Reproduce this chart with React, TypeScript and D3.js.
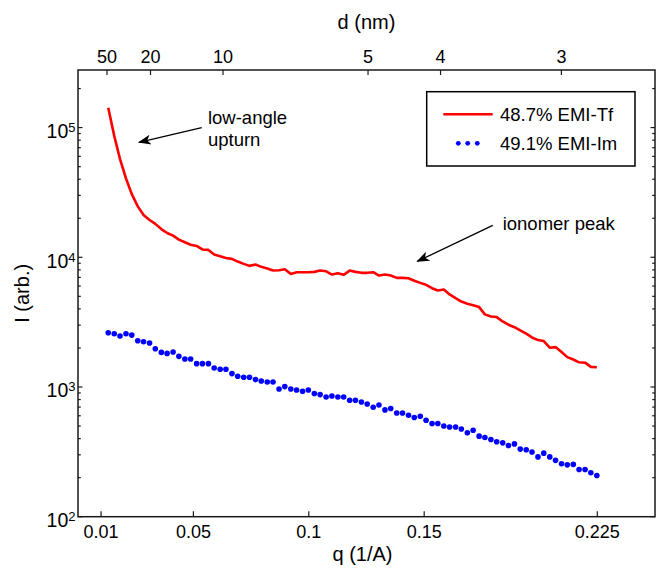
import React from "react";
import * as d3 from "d3";

// q grid (1/A), shared by both series
const qValues = [
  0.0131, 0.0157, 0.0182, 0.0208, 0.0233, 0.0259, 0.0284, 0.031, 0.0335, 0.0361,
  0.0386, 0.0412, 0.0437, 0.0463, 0.0488, 0.0514, 0.0539, 0.0565, 0.059, 0.0616,
  0.0641, 0.0667, 0.0692, 0.0718, 0.0743, 0.0769, 0.0794, 0.082, 0.0845, 0.0871,
  0.0896, 0.0922, 0.0947, 0.0973, 0.0998, 0.1024, 0.1049, 0.1075, 0.11, 0.1126,
  0.1151, 0.1177, 0.1202, 0.1228, 0.1253, 0.1279, 0.1304, 0.133, 0.1355, 0.1381,
  0.1406, 0.1432, 0.1457, 0.1483, 0.1508, 0.1534, 0.1559, 0.1585, 0.161, 0.1636,
  0.1661, 0.1687, 0.1712, 0.1738, 0.1763, 0.1789, 0.1814, 0.184, 0.1865, 0.1891,
  0.1916, 0.1942, 0.1967, 0.1993, 0.2018, 0.2044, 0.2069, 0.2095, 0.212, 0.2146,
  0.2171, 0.2197, 0.2222, 0.2248,
];

// 48.7% EMI-Tf (red line)
const tfValues = [
  142000, 86300, 57100, 40500, 30700, 24700, 21200, 19400, 18100, 16500,
  15400, 14700, 13700, 13050, 12500, 12240, 11500, 11400, 10500, 10200,
  9890, 9720, 9270, 8900, 8590, 8790, 8440, 8190, 7900, 7940,
  8090, 7450, 7670, 7670, 7670, 7720, 7900, 7800, 7360, 7530,
  7320, 7900, 7720, 7590, 7590, 7670, 7230, 7360, 7230, 6940,
  6940, 6900, 6590, 6350, 6140, 5780, 5540, 5640, 5170, 4840,
  4560, 4380, 4270, 4130, 3630, 3500, 3460, 3200, 3020, 2890,
  2730, 2580, 2410, 2300, 2260, 2010, 2030, 1860, 1700, 1630,
  1550, 1540, 1430, 1420,
];

// 49.1% EMI-Im (blue dots)
const imValues = [
  2620, 2575, 2468, 2575, 2512, 2275, 2235, 2181, 1974, 1849,
  1816, 1859, 1723, 1642, 1642, 1514, 1514, 1514, 1401, 1369,
  1369, 1268, 1209, 1188, 1188, 1140, 1112, 1093, 1093, 965,
  1007, 965, 948, 927, 948, 890, 874, 838, 853, 838,
  838, 790, 790, 767, 740, 698, 727, 666, 682, 631,
  631, 606, 582, 595, 554, 523, 523, 501, 492, 492,
  475, 443, 464, 418, 408, 394, 378, 371, 354, 364,
  332, 328, 315, 289, 309, 289, 272, 256, 251, 253,
  231, 231, 218, 208,
];

const bottomTicks = [0.01, 0.05, 0.1, 0.15, 0.225];
const bottomTickLabels = ["0.01", "0.05", "0.1", "0.15", "0.225"];
const topTicksNm = [50, 20, 10, 5, 4, 3];
const seriesNames = ["48.7% EMI-Tf", "49.1% EMI-Im"];

const W = 657;
const H = 573;
const FONT = "'Liberation Sans', Arial, Helvetica, sans-serif";

export default function App() {
  const x = d3.scaleLinear().domain([0, 0.25]).range([78, 655]);
  const y = d3.scaleLog().domain([100, 2.78e5]).range([516.7, 70]);
  const [x0, x1] = x.range();
  const [yb, yt] = y.range();

  const line = d3
    .line<number>()
    .x((_, i) => x(qValues[i]))
    .y((v) => y(v));

  const yTicks = y.ticks();
  const isMajor = (v: number) => Math.abs(Math.log10(v) - Math.round(Math.log10(v))) < 1e-9;
  const qFromNm = (d: number) => (2 * Math.PI) / (10 * d);

  const arrowLow = { from: [0.0536, 1.0e5], to: [0.0264, 7.7e4] };
  const arrowPeak = { from: [0.1797, 17600], to: [0.147, 9300] };

  const stroke = "#1a1a1a";

  return (
    <svg
      width={W}
      height={H}
      style={{ position: "absolute", left: 0, top: 0, background: "#fff" }}
      fontFamily={FONT}
    >
      <defs>
        <marker
          id="ah"
          viewBox="0 0 13 10"
          refX="12"
          refY="5"
          markerWidth="13"
          markerHeight="10"
          markerUnits="userSpaceOnUse"
          orient="auto"
        >
          <path d="M0,0 L13,5 L0,10 L3.5,5 Z" fill="#000" />
        </marker>
      </defs>

      {/* red line */}
      <path d={line(tfValues) || ""} fill="none" stroke="#ff0000" strokeWidth={2.6} strokeLinejoin="round" />

      {/* blue dots */}
      {imValues.map((v, i) => (
        <circle key={i} cx={x(qValues[i])} cy={y(v)} r={2.8} fill="#0000ff" />
      ))}

      {/* frame */}
      <rect x={x0} y={yt} width={x1 - x0} height={yb - yt} fill="none" stroke={stroke} strokeWidth={1.5} />

      {/* y ticks left & right */}
      {yTicks.map((v, i) => {
        const len = isMajor(v) ? 4.5 : 2.8;
        return (
          <g key={i}>
            <line x1={x0} x2={x0 + len} y1={y(v)} y2={y(v)} stroke={stroke} strokeWidth={1.2} />
            <line x1={x1} x2={x1 - len} y1={y(v)} y2={y(v)} stroke={stroke} strokeWidth={1.2} />
          </g>
        );
      })}
      {yTicks.filter(isMajor).map((v, i) => (
        <text key={i} x={75.5} y={y(v) + 10.5} textAnchor="end" fontSize={19.5} fill="#000">
          10
          <tspan dy={-6} fontSize={13}>
            {Math.round(Math.log10(v))}
          </tspan>
        </text>
      ))}

      {/* bottom ticks */}
      {bottomTicks.map((t, i) => (
        <g key={i}>
          <line x1={x(t)} x2={x(t)} y1={yb} y2={yb - 5.5} stroke={stroke} strokeWidth={1.2} />
          <text x={x(t)} y={538.3} textAnchor="middle" fontSize={18} fill="#000">
            {bottomTickLabels[i]}
          </text>
        </g>
      ))}

      {/* top ticks (d in nm) */}
      {topTicksNm.map((d, i) => (
        <g key={i}>
          <line x1={x(qFromNm(d))} x2={x(qFromNm(d))} y1={yt} y2={yt + 5} stroke={stroke} strokeWidth={1.2} />
          <text x={x(qFromNm(d))} y={62.5} textAnchor="middle" fontSize={18} fill="#000">
            {d}
          </text>
        </g>
      ))}

      {/* axis titles */}
      <text x={(x0 + x1) / 2} y={29} textAnchor="middle" fontSize={20} fill="#000">
        d (nm)
      </text>
      <text x={(x0 + x1) / 2 - 4} y={561} textAnchor="middle" fontSize={20} fill="#000">
        q (1/A)
      </text>
      <text
        transform={`translate(28.5, ${(yt + yb) / 2}) rotate(-90)`}
        textAnchor="middle"
        fontSize={20}
        fill="#000"
      >
        I (arb.)
      </text>

      {/* annotations */}
      <line
        x1={x(arrowLow.from[0])}
        y1={y(arrowLow.from[1])}
        x2={x(arrowLow.to[0])}
        y2={y(arrowLow.to[1])}
        stroke="#000"
        strokeWidth={1.3}
        markerEnd="url(#ah)"
      />
      <text x={x(0.0563)} y={y(1.07e5)} fontSize={18.5} fill="#000">
        low-angle
      </text>
      <text x={x(0.0563)} y={y(7.27e4)} fontSize={18.5} fill="#000">
        upturn
      </text>
      <line
        x1={x(arrowPeak.from[0])}
        y1={y(arrowPeak.from[1])}
        x2={x(arrowPeak.to[0])}
        y2={y(arrowPeak.to[1])}
        stroke="#000"
        strokeWidth={1.3}
        markerEnd="url(#ah)"
      />
      <text x={x(0.184)} y={y(16250)} fontSize={18.5} fill="#000">
        ionomer peak
      </text>

      {/* legend */}
      <rect x={426.7} y={91.7} width={208.3} height={74.3} fill="#fff" stroke="#000" strokeWidth={1.5} />
      <line x1={443.3} x2={492.7} y1={114.3} y2={114.3} stroke="#ff0000" strokeWidth={2.6} />
      <text x={500} y={120.7} fontSize={18.5} fill="#000">
        {seriesNames[0]}
      </text>
      {[458.3, 467.7, 477.3].map((cx, i) => (
        <circle key={i} cx={cx} cy={143.3} r={2.4} fill="#0000ff" />
      ))}
      <text x={500} y={150} fontSize={18.5} fill="#000">
        {seriesNames[1]}
      </text>
    </svg>
  );
}
